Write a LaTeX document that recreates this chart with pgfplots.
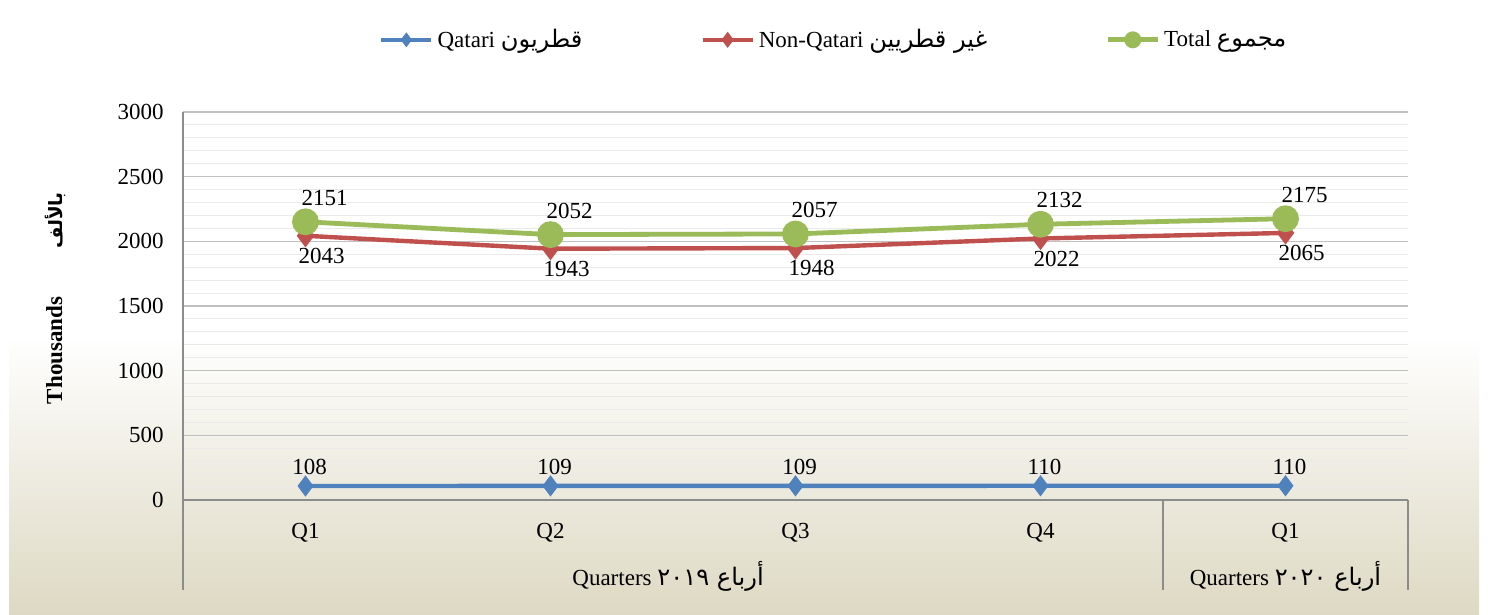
\documentclass[border=0pt]{standalone}
\usepackage{fontspec}
\setmainfont{Liberation Serif}
\newfontfamily\arabicfont[Script=Arabic,Scale=1.05]{DejaVu Sans}
\newfontfamily\arabicsmall[Script=Arabic,Scale=0.8]{DejaVu Sans}
\TeXXeTstate=1
\usepackage{pgfplots}
\pgfplotsset{compat=1.18}

\definecolor{qblue}{HTML}{4F81BD}
\definecolor{qred}{HTML}{C0504D}
\definecolor{qgreen}{HTML}{9BBB59}
\definecolor{bgbeige}{HTML}{DDD9C3}
\definecolor{axgray}{HTML}{8C8C8C}
\definecolor{majgrid}{HTML}{C0C0C0}
\definecolor{mingrid}{HTML}{EAEAEA}

\begin{document}
\begin{tikzpicture}
  % page background: white fading into beige at the bottom
  \useasboundingbox (0,0) rectangle (744pt,307.5pt);
  \fill[white] (0,0) rectangle (744pt,307.5pt);
  \shade[top color=white, bottom color=bgbeige] (4.5pt,0) rectangle (739.5pt,140pt);

  \begin{axis}[
      at={(91.5pt,57.5pt)}, anchor=south west,
      scale only axis,
      width=612.5pt, height=194pt,
      font=\fontsize{11.5}{13.8}\selectfont,
      /pgf/number format/assume math mode=true,
      /pgf/number format/1000 sep={},
      axis x line=bottom, axis y line=left,
      axis line style={-, axgray, line width=0.8pt},
      xmin=-0.5, xmax=4.5,
      xtick=data,
      xticklabels={Q1, Q2, Q3, Q4, Q1},
      xtick style={draw=none},
      xticklabel style={yshift=-6pt},
      ymin=0, ymax=3000,
      ytick={0,500,...,3000},
      minor y tick num=4,
      ytick style={draw=none},
      minor y tick style={draw=none},
      yticklabel style={xshift=-4pt},
      ymajorgrids=true, yminorgrids=true,
      major grid style={majgrid, line width=0.6pt},
      minor grid style={mingrid, line width=0.5pt},
      ylabel={\bfseries Thousands\hspace{24pt}{\arabicsmall\bfseries\beginR بالألف\endR}},
      ylabel style={at={(axis description cs:-0.1045,0.52)}, anchor=center},
      clip=false,
      legend columns=3,
      legend style={at={(axis description cs:0.532,1.186)}, anchor=center,
        draw=none, fill=none, font=\fontsize{11.5}{13.8}\selectfont,
        /tikz/every even column/.append style={column sep=57pt}},
      legend image code/.code={\draw[mark repeat=2, mark phase=2, mark options={scale=0.55}]
        plot coordinates {(0cm,0cm) (0.44cm,0cm) (0.88cm,0cm)};},
    ]
    \addplot[qblue, line width=2.2pt, mark=diamond*, mark size=3.5pt,
      nodes near coords,
      every node near coord/.append style={anchor=center, xshift=2pt, yshift=9.5pt, text=black}]
      coordinates {(0,108) (1,109) (2,109) (3,110) (4,110)};
    \addlegendentry{Qatari {\arabicfont\beginR قطريون\endR}}

    \addplot[qred, line width=2.2pt, mark=diamond*, mark size=4pt,
      nodes near coords,
      every node near coord/.append style={anchor=center, xshift=8pt, yshift=-10pt, text=black}]
      coordinates {(0,2043) (1,1943) (2,1948) (3,2022) (4,2065)};
    \addlegendentry{Non-Qatari {\arabicfont\beginR غير قطريين\endR}}

    \addplot[qgreen, line width=2.4pt, mark=*, mark size=5.5pt,
      nodes near coords,
      every node near coord/.append style={anchor=center, xshift=9.5pt, yshift=12pt, text=black}]
      coordinates {(0,2151) (1,2052) (2,2057) (3,2132) (4,2175)};
    \addlegendentry{Total {\arabicfont\beginR مجموع\endR}}

    % multi-level category separators and group labels
    \draw[axgray, line width=0.8pt] (axis cs:-0.5,0) -- ++(0pt,-45pt);
    \draw[axgray, line width=0.8pt] (axis cs:3.5,0) -- ++(0pt,-45pt);
    \draw[axgray, line width=0.8pt] (axis cs:4.5,0) -- ++(0pt,-45pt);
    \node[anchor=center, yshift=-38pt] at (axis cs:1.48,0)
      {Quarters {\arabicfont ٢٠١٩ \beginR أرباع\endR}};
    \node[anchor=center, yshift=-38pt] at (axis cs:4,0)
      {Quarters {\arabicfont ٢٠٢٠ \beginR أرباع\endR}};
  \end{axis}
\end{tikzpicture}
\end{document}
